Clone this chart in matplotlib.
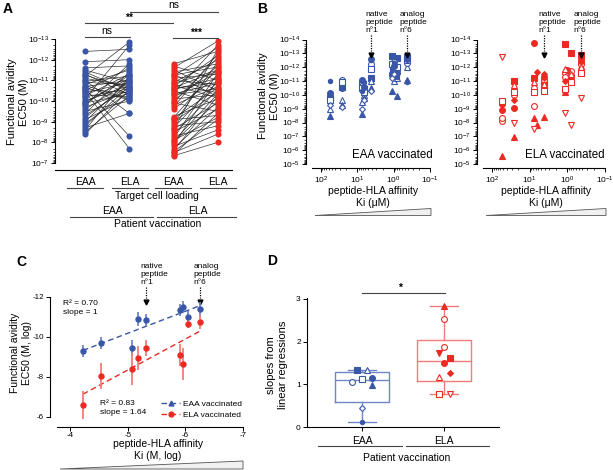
import numpy as np
import matplotlib
matplotlib.use("Agg")
import matplotlib.pyplot as plt
import matplotlib.transforms as mtransforms
from matplotlib.lines import Line2D
from matplotlib.patches import Polygon
from matplotlib.ticker import LogLocator, NullFormatter

plt.rcParams['font.family'] = ['Liberation Sans', 'DejaVu Sans']
plt.rcParams['mathtext.fontset'] = 'custom'
plt.rcParams['mathtext.rm'] = 'Liberation Sans'
plt.rcParams['mathtext.it'] = 'Liberation Sans:italic'
plt.rcParams['mathtext.bf'] = 'Liberation Sans:bold'
plt.rcParams['axes.unicode_minus'] = False
plt.rcParams['axes.linewidth'] = 0.8

BLUE = '#3a57a7'
RED = '#ec2a24'
GREY = '#444444'
nan = np.nan

######## panel A : log10 EC50 (M), one pair per patient ########
a_eaa_vac_eaa = [-12.4, -11.9, -11.5, -11.4, -11.3, -11.25, -11.2, -11.1, -11.0, -10.95, -10.9,
                 -10.8, -10.75, -10.7, -10.6, -10.55, -10.5, -10.45, -10.4, -10.3, -10.25, -10.2,
                 -10.1, -10.0, -9.95, -9.9, -9.8, -9.7, -9.6, -9.5, -9.4, -9.3, -9.2, -9.1, -9.0,
                 -8.9, -8.8, -8.7, -8.6, -8.5, -8.4, -11.6, -10.65, -9.85]
a_eaa_vac_ela = [-12.5, -12.0, -10.9, -10.5, -10.3, -10.6, -12.85, -10.7, -9.4, -11.2, -10.8,
                 -11.5, -10.1, -11.0, -8.3, -10.4, -11.6, -7.7, -10.9, -10.2, -11.3, -10.6,
                 -12.7, -10.75, -11.1, -10.35, -11.8, -10.5, -10.95, -10.0, -11.4, -10.65, -10.8,
                 -10.15, -11.05, -10.45, -10.7, -9.4, -11.2, -10.25, -10.55, -11.7, -10.05, -11.25]
a_ela_vac_eaa = [-11.8, -11.7, -11.6, -11.5, -11.4, -11.3, -11.2, -11.1, -11.0, -10.9, -10.85,
                 -10.8, -10.7, -10.6, -10.55, -10.5, -10.4, -10.3, -10.2, -10.1, -10.0, -9.9,
                 -9.8, -9.7, -9.6, -9.25, -9.2, -9.1, -9.0, -8.9, -8.8, -8.7, -8.6, -8.5, -8.4,
                 -8.3, -8.2, -8.1, -8.0, -7.9, -7.8, -7.7, -7.6, -7.5, -7.4, -7.35, -10.65,
                 -10.35, -9.95, -9.15, -8.65, -8.05, -7.55, -11.25, -10.75]
a_ela_vac_ela = [-12.4, -11.0, -12.9, -10.5, -11.8, -10.2, -12.6, -11.3, -10.8, -12.0, -11.5,
                 -10.4, -12.2, -10.9, -11.1, -9.8, -12.7, -10.6, -11.4, -10.3, -11.7, -9.5,
                 -10.7, -12.3, -11.2, -10.1, -11.6, -9.3, -10.45, -11.9, -9.0, -10.95, -12.5,
                 -9.6, -10.55, -8.8, -11.35, -9.2, -10.0, -11.05, -8.6, -9.7, -10.25, -8.4, -9.4,
                 -8.0, -11.45, -10.85, -12.1, -10.65, -9.9, -10.35, -9.1, -11.65, -10.15]
a_cats = ['EAA', 'ELA', 'EAA', 'ELA']

######## panel B : log10 EC50 per patient and peptide ########
b_ki_um = [56, 26, 7.6, 6.3, 4.2, 1.12, 1.0, 0.79, 0.44]
b_native, b_analog = 4, 8
b_eaa = [
    [-9.75, -10.6, -10.8, -10.4, -11.2, -12.8, -12.0, -12.65, -12.7],
    [-9.0, -9.6, -9.5, -10.0, -11.0, -11.8, -11.0, -11.2, -12.0],
    [nan, -11.1, -10.9, -10.4, -12.2, -11.5, -12.4, -11.8, -12.3],
    [-9.65, -10.9, -10.5, -10.2, -11.9, -12.2, -11.6, -12.0, -12.5],
    [-10.15, -10.5, -11.1, -10.6, -12.6, -11.4, -12.1, -11.6, -12.6],
    [-8.5, -9.3, -8.65, -9.8, -10.5, -10.3, nan, -9.9, -11.05],
    [-9.3, -9.15, -9.0, -9.6, -10.3, -11.2, -11.5, nan, nan],
    [-11.0, nan, -10.3, -10.9, -12.55, -11.9, -12.3, -11.3, -10.9],
]
b_ela = [
    [-5.55, -6.95, -8.35, -7.8, -8.4, -10.2, nan, nan, -12.1],
    [-8.1, -10.0, -9.2, nan, -10.9, -11.6, nan, -11.4, -12.3],
    [-8.3, nan, -10.5, nan, -11.1, -11.3, nan, -11.7, -12.2],
    [nan, nan, nan, nan, nan, nan, nan, nan, nan],
    [nan, -11.0, -11.2, nan, -10.7, -13.7, nan, -13.05, -12.85],
    [-8.9, -9.05, -13.75, nan, -11.3, nan, -11.8, nan, -12.45],
    [-9.3, -9.65, nan, -11.65, -11.5, -11.0, nan, -11.2, -12.6],
    [nan, -10.7, -10.9, nan, -10.8, -11.9, nan, -11.5, -12.0],
    [-9.55, -10.2, -10.2, nan, -10.3, -10.45, nan, -10.9, -11.6],
    [-12.7, -7.95, -7.5, nan, nan, -8.7, nan, -7.8, -9.8],
]
eaa_markers = ['s', '^', 'o', 's', 'o', '^', 'D', 'h']
eaa_filled = [1, 0, 0, 0, 1, 1, 0, 1]
ela_markers = ['^', 'o', 'o', 'v', 's', 'o', 'D', '^', 's', 'v']
ela_filled = [1, 0, 0, 1, 1, 1, 1, 0, 0, 0]

######## panel C : mean log EC50 vs log Ki ########
c_log_ki = [-4.22, -4.54, -5.08, -5.18, -5.31, -5.91, -5.96, -6.04, -6.26]
c_eaa_mean = [-9.29, -9.70, -9.46, -10.89, -10.85, -11.34, -11.50, -10.98, -11.39]
c_eaa_err = [0.3, 0.3, 0.4, 0.35, 0.3, 0.3, 0.3, 0.3, 0.35]
c_ela_mean = [-6.58, -8.06, -8.39, -8.92, -9.46, -9.08, -8.64, -10.64, -10.72]
c_ela_err = [0.7, 0.65, 0.8, 0.6, 0.4, 0.55, 0.8, 0.2, 0.35]
c_native, c_analog = 4, 8

######## panel D : slopes per patient ########
d_eaa = [1.33, 1.33, 1.06, 1.12, 1.14, 0.98, 0.44, 0.11]
d_ela = [2.83, 2.54, 1.87, 1.73, 1.61, 1.50, 1.27, 1.17, 0.77, 0.77]
d_eaa_jit = [-0.065, 0.057, -0.126, 0.0, 0.12, 0.12, 0.0, 0.0]
d_ela_jit = [0.0, 0.0, 0.0, -0.06, 0.07, 0.0, 0.07, -0.06, -0.06, 0.07]

W, H = 613, 470
fig = plt.figure(figsize=(W / 100, H / 100), dpi=100)


def axes_px(l, t, r, b):
    return fig.add_axes([l / W, 1 - b / H, (r - l) / W, (b - t) / H])


def ftext(x, y, s, size=7.5, **kw):
    kw.setdefault('ha', 'center')
    kw.setdefault('va', 'center')
    fig.text(x / W, 1 - y / H, s, fontsize=size, **kw)


def fline(x0, x1, y, color=GREY, lw=0.8):
    fig.add_artist(Line2D([x0 / W, x1 / W], [1 - y / H, 1 - y / H], color=color, lw=lw))


def wedge(x0, x1, ytop, ybot):
    pts = np.array([[x0, ybot], [x1, ytop], [x1, ybot]], dtype=float)
    pts[:, 0] /= W
    pts[:, 1] = 1 - pts[:, 1] / H
    fig.add_artist(Polygon(pts, closed=True, facecolor='#f0f0f0', edgecolor='#555555', lw=0.6))


def style(ax):
    for s in ('top', 'right'):
        ax.spines[s].set_visible(False)
    ax.tick_params(labelsize=6, length=3, width=0.7, pad=1.5)
    ax.tick_params(which='minor', length=1.6, width=0.5)


def log_y(ax, lo, hi):
    ax.set_yscale('log')
    ax.set_ylim(10.0 ** lo, 10.0 ** hi)
    ax.yaxis.set_major_locator(LogLocator(base=10, numticks=20))
    ax.yaxis.set_minor_locator(LogLocator(base=10, subs=np.arange(2, 10) * 1.0, numticks=20))
    ax.yaxis.set_minor_formatter(NullFormatter())


def marker_kw(m, filled, color):
    ms = {'D': 3.0, 'h': 3.4}.get(m, 4.2)
    return dict(ls='none', marker=m, ms=ms, mec=color, mew=0.8,
                mfc=color if filled else 'white')


def peptide_arrow(ax, x, label, tip, start, dx, fs=6):
    tr = mtransforms.blended_transform_factory(ax.transData, ax.transAxes)
    ax.plot([x, x], [start, tip + 0.03], transform=tr, ls=(0, (1, 1)), color='k', lw=0.9, clip_on=False)
    ax.plot([x], [tip], transform=tr, marker='v', ms=3.5, color='k', clip_on=False)
    ax.text(x, start + 0.01, label, transform=mtransforms.offset_copy(tr, fig=fig, x=dx, y=0, units='dots'),
            ha='left', va='bottom', fontsize=fs, linespacing=1.15)


#################### A ####################
axA = axes_px(55, 39, 232, 163)
style(axA)
for l, r in zip(a_eaa_vac_eaa, a_eaa_vac_ela):
    axA.plot([0, 1], [10 ** l, 10 ** r], color='#222222', lw=0.45, zorder=1)
for l, r in zip(a_ela_vac_eaa, a_ela_vac_ela):
    axA.plot([2, 3], [10 ** l, 10 ** r], color='#222222', lw=0.45, zorder=1)
for xpos, vals, col in [(0, a_eaa_vac_eaa, BLUE), (1, a_eaa_vac_ela, BLUE),
                        (2, a_ela_vac_eaa, RED), (3, a_ela_vac_ela, RED)]:
    axA.plot(np.full(len(vals), xpos), 10 ** np.array(vals), 'o', color=col, ms=4.4, mew=0, zorder=2)
log_y(axA, -7, -13)
axA.set_xlim(-0.68, 3.32)
axA.set_xticks([])
axA.spines['bottom'].set_position(('outward', 5))

ftext(8, 9, 'A', size=10, weight='bold')
ftext(18, 102, 'Functional avidity\nEC50 (M)', size=8, rotation=90)
fline(85, 130, 37); ftext(107, 31, 'ns')
fline(85, 173, 23); ftext(129, 18, '**', weight='bold')
fline(130, 218, 12); ftext(174, 5, 'ns')
fline(173, 218, 38); ftext(196, 33, '***', weight='bold')
for xc, lab in zip([85, 130, 173, 218], a_cats):
    ftext(xc, 182, lab)
    fline(xc - 18, xc + 18, 188)
ftext(157, 196, 'Target cell loading')
ftext(112, 211, 'EAA'); ftext(198, 211, 'ELA')
fline(70, 153, 217); fline(157, 236, 217)
ftext(158, 224, 'Patient vaccination')

#################### B ####################
ftext(262, 9, 'B', size=10, weight='bold')
ftext(269, 96, 'Functional avidity\nEC50 (M)', size=8, rotation=90)
for (l, r), data, mk, fl, col, lab in [((312, 430), b_eaa, eaa_markers, eaa_filled, BLUE, 'EAA vaccinated'),
                                       ((483, 605), b_ela, ela_markers, ela_filled, RED, 'ELA vaccinated')]:
    ax = axes_px(l, 39.5, r, 164)
    style(ax)
    for vals, m, f in zip(data, mk, fl):
        ax.plot(b_ki_um, 10 ** np.array(vals), **marker_kw(m, f, col))
    ax.set_xscale('log')
    ax.set_xlim(10 ** 2.24, 10 ** -1.0)
    ax.xaxis.set_major_locator(LogLocator(base=10, numticks=10))
    ax.xaxis.set_minor_locator(LogLocator(base=10, subs=np.arange(2, 10) * 1.0, numticks=10))
    ax.xaxis.set_minor_formatter(NullFormatter())
    log_y(ax, -5, -14)
    ax.spines['left'].set_position(('outward', 4))
    ax.spines['bottom'].set_position(('outward', 3))
    peptide_arrow(ax, b_ki_um[b_native], 'native\npeptide\nn°1', 0.875, 1.036, -5)
    peptide_arrow(ax, b_ki_um[b_analog], 'analog\npeptide\nn°6', 0.875, 1.036, -7)
    cx = (l + r) / 2
    ftext(cx + 21, 155, lab, size=8.3)
    ftext(cx + 2, 191, 'peptide-HLA affinity')
    ftext(cx + 2, 202.5, 'Ki (μM)')
    wedge(l + 3, r + 1, 208.5, 215.5)

#################### C ####################
axC = axes_px(57, 295, 243, 419)
style(axC)
for mean, err, col, ecol in [(c_eaa_mean, c_eaa_err, BLUE, '#6f86c8'),
                             (c_ela_mean, c_ela_err, RED, '#f47c78')]:
    axC.errorbar(c_log_ki, mean, yerr=err, fmt='o', color=col, ecolor=ecol, ms=3.6,
                 elinewidth=1.3, capsize=0, zorder=3)
    x = np.array(c_log_ki)
    slope, icpt = np.polyfit(x, np.array(mean), 1)
    xx = np.array([x.max(), x.min()])
    axC.plot(xx, slope * xx + icpt, ls=(0, (4, 2.5)), color=col, lw=1.0, zorder=2)
axC.set_xlim(-3.77, -7.0)
axC.set_ylim(-5.9, -12.08)
axC.set_xticks([-4, -5, -6, -7])
axC.set_yticks([-12, -10, -8, -6])
axC.tick_params(labelsize=5.8)
axC.tick_params(axis='x', length=3, pad=0.3)
axC.spines['left'].set_bounds(-6, -12)
axC.spines['left'].set_position(('outward', 5))
axC.spines['bottom'].set_position(('outward', 6))
peptide_arrow(axC, c_log_ki[c_native], 'native\npeptide\nn°1', 0.944, 1.065, -5)
peptide_arrow(axC, c_log_ki[c_analog], 'analog\npeptide\nn°6', 0.944, 1.065, -7)
handles = [Line2D([0], [0], color=BLUE, ls=(0, (4, 2.5)), marker='^', ms=3.5, lw=1),
           Line2D([0], [0], color=RED, ls=(0, (4, 2.5)), marker='o', ms=3.5, lw=1)]
axC.legend(handles, ['EAA vaccinated', 'ELA vaccinated'], loc='lower left', bbox_to_anchor=(0.56, 0.0),
           frameon=False, fontsize=6, handlelength=2.3, handletextpad=0.3, labelspacing=0.35,
           borderpad=0, borderaxespad=0)
ftext(21, 262, 'C', size=10, weight='bold')
ftext(21, 353, 'Functional avidity\nEC50 (M, log)', size=7.5, rotation=90)
ftext(63, 308, 'R² = 0.70\nslope = 1', size=6, ha='left', linespacing=1.3)
ftext(100, 408, 'R² = 0.83\nslope = 1.64', size=6, ha='left', linespacing=1.3)
ftext(158, 444, 'peptide-HLA affinity')
ftext(158, 456, 'Ki (M, log)')
wedge(60, 243, 461, 469)

#################### D ####################
axD = axes_px(307, 298, 499, 427)
style(axD)
stats = []
for vals in (d_eaa, d_ela):
    q1, med, q3 = np.percentile(vals, [25, 50, 75], method='weibull')
    stats.append(dict(med=med, q1=q1, q3=q3, whislo=min(vals), whishi=max(vals), fliers=[]))
bp = axD.bxp(stats, positions=[0, 1], widths=0.66, capwidths=0.34, showfliers=False)
for i, col in enumerate(['#6f86c8', '#f47c78']):
    bp['boxes'][i].set(color=col, lw=1.0)
    bp['medians'][i].set(color=col, lw=1.0)
    for k in (2 * i, 2 * i + 1):
        bp['whiskers'][k].set(color=col, lw=1.0)
        bp['caps'][k].set(color=col, lw=1.0)
for pos, vals, jit, mk, fl, col in [(0, d_eaa, d_eaa_jit, eaa_markers, eaa_filled, BLUE),
                                    (1, d_ela, d_ela_jit, ela_markers, ela_filled, RED)]:
    for v, j, m, f in zip(vals, jit, mk, fl):
        kw = marker_kw(m, f, col)
        axD.plot(pos + j, v, zorder=3, **kw)
axD.set_xlim(-0.67, 1.67)
axD.set_ylim(0, 3.02)
axD.set_yticks([0, 1, 2, 3])
axD.set_xticks([0, 1])
axD.set_xticklabels(['EAA', 'ELA'], fontsize=7.5)
axD.tick_params(axis='x', pad=3.5)
ftext(272, 261, 'D', size=10, weight='bold')
ftext(277, 365, 'slopes from\nlinear regressions', size=8, rotation=90)
fline(362, 445, 293); ftext(400, 288, '*', weight='bold')
fline(318, 402, 446); fline(406, 489, 446)
ftext(407, 458, 'Patient vaccination')

fig.savefig('out.png', dpi=100)
